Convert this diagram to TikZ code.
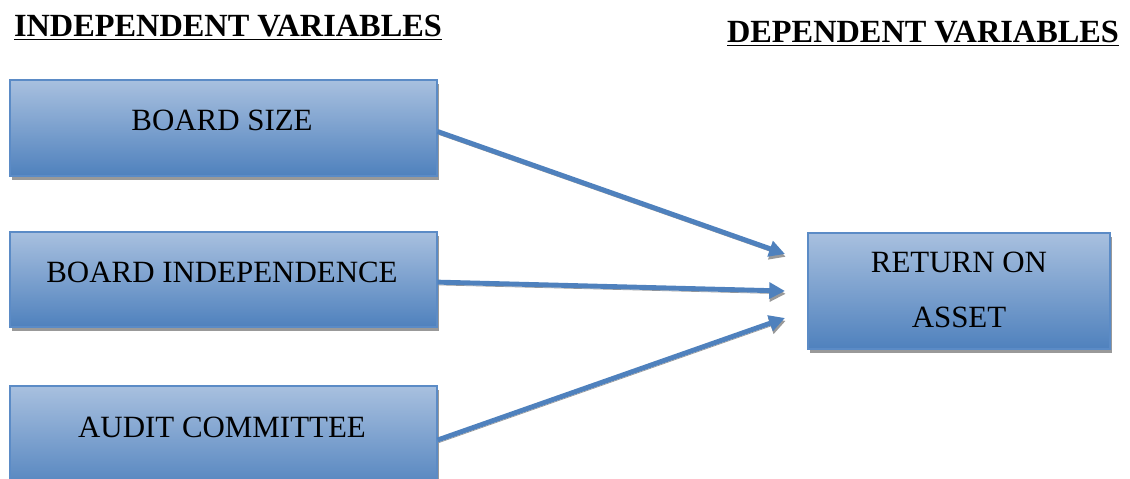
\documentclass[tikz,border=0pt]{standalone}
\usepackage{fontspec}
\setmainfont{Liberation Serif}
\usetikzlibrary{shadows,arrows.meta}
\definecolor{boxtop}{RGB}{168,192,223}
\definecolor{boxbot}{RGB}{79,129,189}
\definecolor{boxline}{RGB}{91,139,198}
\definecolor{arrowc}{RGB}{79,129,189}
\tikzset{
  varbox/.style={rectangle, draw=boxline, line width=0.8pt, top color=boxtop, bottom color=boxbot,
    drop shadow={shadow xshift=1pt, shadow yshift=-2pt, fill=black!40, opacity=1}, inner sep=0pt},
  boxtext/.style={font=\fontsize{17.6}{31}\selectfont, align=center, inner sep=0pt},
  titletext/.style={font=\fontsize{18.4}{22}\selectfont\bfseries, inner sep=0pt},
  conn/.style={draw=arrowc, line width=2.8pt, -{Triangle[length=9pt,width=9pt]},
    preaction={draw=black!40, transform canvas={xshift=0.4pt,yshift=-1.6pt}}}
}
\begin{document}
\begin{tikzpicture}[x=0.02cm,y=-0.02cm]
\useasboundingbox (0,0) rectangle (1130,479);
\node[titletext] (indt) at (228,28) {\underline{INDEPENDENT VARIABLES}};
\node[titletext] (dept) at (923,34) {\underline{DEPENDENT VARIABLES}};
\node[varbox, minimum width=8.54cm, minimum height=1.92cm] (bs) at (223.5,128) {};
\node[varbox, minimum width=8.54cm, minimum height=1.9cm] (bi) at (223.5,279.5) {};
\node[varbox, minimum width=8.54cm, minimum height=2.16cm] (ac) at (223.5,440) {};
\node[varbox, minimum width=6.04cm, minimum height=2.32cm] (roa) at (959,291) {};
\node[boxtext] (bst) at (222,120) {BOARD SIZE};
\node[boxtext] (bit) at (222,272) {BOARD INDEPENDENCE};
\node[boxtext] (act) at (222,427) {AUDIT COMMITTEE};
\node[boxtext] (roat) at (959,290) {RETURN ON\\ASSET};
\coordinate (t1) at (785,254);
\coordinate (t2) at (785,291);
\coordinate (t3) at (785,318);
\draw[conn] ([yshift=-2pt]bs.east) -- (t1);
\draw[conn] ([yshift=-1.5pt]bi.east) -- (t2);
\draw[conn] (ac.east) -- (t3);
\end{tikzpicture}
\end{document}
